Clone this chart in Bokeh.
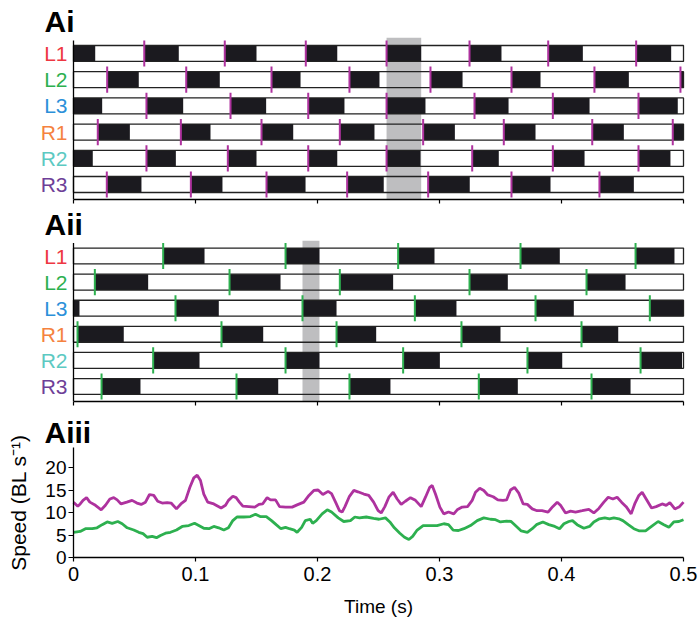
from bokeh.plotting import figure
from bokeh.models import Range1d, FixedTicker, LinearAxis
from bokeh.core.properties import value
from bokeh.layouts import column
from bokeh.embed import file_html
from bokeh.resources import INLINE

LEGS = ["L1", "L2", "L3", "R1", "R2", "R3"]
LEG_COLORS = ["#EE3742", "#2DB04F", "#2B90D9", "#F5823F", "#5CC9C2", "#6E3F98"]

# ---- Ai: stance phases (onset, offset) in seconds ----
AI_L1 = [[0.0000, 0.0178], [0.0580, 0.0863], [0.1240, 0.1500], [0.1904, 0.2162],
         [0.2566, 0.2850], [0.3246, 0.3508], [0.3891, 0.4175], [0.4612, 0.4899]]
AI_L2 = [[0.0276, 0.0535], [0.0924, 0.1199], [0.1623, 0.1861], [0.2262, 0.2508],
         [0.2926, 0.3189], [0.3590, 0.3828], [0.4270, 0.4552], [0.4975, 0.5000]]
AI_L3 = [[0.0000, 0.0235], [0.0598, 0.0899], [0.1287, 0.1579], [0.1924, 0.2221],
         [0.2566, 0.2885], [0.3287, 0.3566], [0.3929, 0.4230], [0.4631, 0.4953]]
AI_R1 = [[0.0199, 0.0462], [0.0880, 0.1123], [0.1541, 0.1801], [0.2183, 0.2467],
         [0.2866, 0.3126], [0.3527, 0.3787], [0.4252, 0.4511], [0.4912, 0.5000]]
AI_R2 = [[0.0000, 0.0158], [0.0598, 0.0839], [0.1265, 0.1500], [0.1924, 0.2162],
         [0.2566, 0.2844], [0.3268, 0.3486], [0.3929, 0.4189], [0.4631, 0.4893]]
AI_R3 = [[0.0273, 0.0557], [0.0962, 0.1221], [0.1582, 0.1902], [0.2243, 0.2543],
         [0.2907, 0.3248], [0.3590, 0.3910], [0.4311, 0.4593]]
AI_HIGHLIGHT = [0.2566, 0.2850]

# ---- Aii: stance phases ----
AII_L1 = [[0.0735, 0.1074], [0.1738, 0.2016], [0.2661, 0.2959], [0.3664, 0.3986],
          [0.4607, 0.4926]]
AII_L2 = [[0.0175, 0.0612], [0.1279, 0.1697], [0.2183, 0.2620], [0.3246, 0.3560],
          [0.4205, 0.4525]]
AII_L3 = [[0.0000, 0.0049], [0.0836, 0.1191], [0.1877, 0.2156], [0.2798, 0.3139],
          [0.3787, 0.4101], [0.4724, 0.5000]]
AII_R1 = [[0.0033, 0.0412], [0.1213, 0.1555], [0.2156, 0.2481], [0.3180, 0.3500],
          [0.4164, 0.4465]]
AII_R2 = [[0.0653, 0.1033], [0.1738, 0.2016], [0.2702, 0.3003], [0.3721, 0.4006],
          [0.4648, 0.4988]]
AII_R3 = [[0.0230, 0.0549], [0.1336, 0.1678], [0.2262, 0.2598], [0.3322, 0.3642],
          [0.4246, 0.4566]]
AII_HIGHLIGHT = [0.1877, 0.2016]

# ---- Aiii: speed traces ----
TIME_FAST = [0.000, 0.0035, 0.0055, 0.0078, 0.0107, 0.0134, 0.0180, 0.0227, 0.0262, 0.0298,
             0.0330, 0.0358, 0.0390, 0.0437, 0.0480, 0.0520, 0.0555, 0.0590, 0.0623, 0.0658,
             0.0690, 0.0727, 0.0768, 0.0800, 0.0844, 0.0880, 0.0918, 0.0954, 0.0986, 0.1014,
             0.1041, 0.1068, 0.1100, 0.1150, 0.1210, 0.1246, 0.1270, 0.1306, 0.1333, 0.1360,
             0.1388, 0.1437, 0.1486, 0.1520, 0.1550, 0.1587, 0.1615, 0.1656, 0.1689, 0.1738,
             0.1792, 0.1833, 0.1888, 0.1930, 0.1970, 0.2005, 0.2044, 0.2087, 0.2115, 0.2148,
             0.2180, 0.2202, 0.2225, 0.2262, 0.2298, 0.2331, 0.2380, 0.2420, 0.2460, 0.2497,
             0.2522, 0.2552, 0.2585, 0.2620, 0.2653, 0.2686, 0.2720, 0.2762, 0.2803, 0.2850,
             0.2885, 0.2920, 0.2940, 0.2967, 0.3003, 0.3035, 0.3074, 0.3117, 0.3145, 0.3186,
             0.3230, 0.3268, 0.3295, 0.3330, 0.3363, 0.3396, 0.3440, 0.3478, 0.3520, 0.3550,
             0.3582, 0.3615, 0.3650, 0.3686, 0.3720, 0.3760, 0.3800, 0.3840, 0.3890, 0.3928,
             0.3965, 0.3992, 0.4033, 0.4074, 0.4115, 0.4170, 0.4224, 0.4265, 0.4306, 0.4347,
             0.4383, 0.4421, 0.4456, 0.4492, 0.4530, 0.4571, 0.4600, 0.4634, 0.4661, 0.4694,
             0.4738, 0.4776, 0.4825, 0.4858, 0.4888, 0.4929, 0.4967, 0.5000]
SPEED_FAST = [12.3, 11.4, 11.9, 12.7, 13.3, 12.3, 11.6, 10.6, 11.6, 13.0,
              13.3, 12.8, 11.9, 12.3, 12.7, 12.1, 11.8, 12.3, 14.0, 13.8,
              12.5, 12.1, 12.2, 12.1, 10.8, 11.9, 12.7, 15.6, 17.7, 18.3,
              17.1, 14.1, 12.3, 11.9, 11.0, 11.6, 12.7, 13.6, 13.3, 12.3,
              11.4, 11.3, 11.2, 11.8, 11.9, 13.3, 12.8, 12.8, 11.3, 11.2,
              11.2, 11.7, 12.3, 13.8, 14.9, 15.0, 14.0, 14.7, 14.2, 12.3,
              10.4, 10.1, 11.3, 13.6, 14.9, 14.6, 14.1, 13.8, 12.3, 10.4,
              9.9, 11.3, 13.4, 14.5, 13.0, 11.8, 12.5, 13.3, 12.7, 11.3,
              13.4, 15.6, 16.0, 14.1, 11.2, 9.7, 10.1, 9.7, 10.6, 11.2,
              11.3, 12.7, 14.5, 15.4, 14.9, 13.9, 13.5, 12.8, 12.7, 12.8,
              15.0, 15.6, 14.3, 11.9, 11.8, 10.8, 10.4, 10.4, 10.1, 11.3,
              12.3, 11.6, 9.9, 10.3, 10.1, 10.4, 10.7, 9.9, 10.9, 12.3,
              13.4, 13.0, 13.4, 12.3, 11.3, 9.7, 11.9, 13.8, 14.5, 13.0,
              11.0, 11.3, 11.9, 11.6, 12.2, 10.8, 11.3, 12.3]
TIME_SLOW = [0.000, 0.0055, 0.0098, 0.0153, 0.0193, 0.0235, 0.0276, 0.0317, 0.0363, 0.0399,
             0.0440, 0.0494, 0.0535, 0.0570, 0.0604, 0.0645, 0.0680, 0.0713, 0.0754, 0.0795,
             0.0844, 0.0891, 0.0945, 0.0992, 0.1027, 0.1068, 0.1110, 0.1150, 0.1190, 0.1232,
             0.1270, 0.1306, 0.1340, 0.1396, 0.1450, 0.1492, 0.1530, 0.1580, 0.1623, 0.1661,
             0.1700, 0.1738, 0.1770, 0.1810, 0.1833, 0.1870, 0.1900, 0.1940, 0.1960, 0.1990,
             0.2038, 0.2080, 0.2115, 0.2170, 0.2215, 0.2270, 0.2306, 0.2344, 0.2400, 0.2460,
             0.2505, 0.2557, 0.2593, 0.2630, 0.2675, 0.2713, 0.2749, 0.2780, 0.2817, 0.2866,
             0.2926, 0.2980, 0.3035, 0.3074, 0.3112, 0.3156, 0.3200, 0.3254, 0.3309, 0.3363,
             0.3418, 0.3459, 0.3500, 0.3550, 0.3587, 0.3631, 0.3670, 0.3720, 0.3760, 0.3795,
             0.3847, 0.3896, 0.3945, 0.3984, 0.4020, 0.4060, 0.4090, 0.4128, 0.4183, 0.4230,
             0.4265, 0.4311, 0.4355, 0.4393, 0.4429, 0.4470, 0.4503, 0.4547, 0.4593, 0.4639,
             0.4689, 0.4738, 0.4792, 0.4839, 0.4880, 0.4920, 0.4962, 0.5000]
SPEED_SLOW = [5.6, 5.8, 6.4, 6.4, 6.6, 7.3, 7.9, 7.6, 8.0, 7.5,
              6.6, 6.1, 5.6, 5.3, 4.5, 4.7, 4.4, 4.9, 5.4, 5.6,
              6.1, 6.9, 7.1, 7.6, 7.1, 6.5, 6.4, 6.9, 6.6, 6.1,
              6.6, 8.2, 9.0, 9.0, 9.1, 9.6, 9.1, 9.1, 8.2, 7.3,
              6.4, 6.7, 6.4, 6.1, 5.6, 6.7, 8.2, 8.5, 7.6, 8.2,
              9.7, 10.6, 10.1, 8.8, 8.0, 8.2, 9.0, 8.8, 9.0, 8.7,
              8.5, 8.8, 7.9, 6.6, 5.4, 4.5, 4.0, 4.7, 6.1, 7.1,
              7.1, 7.1, 7.5, 7.3, 6.1, 6.0, 6.4, 7.1, 8.2, 8.8,
              8.5, 8.4, 7.9, 8.1, 8.0, 6.9, 5.9, 5.6, 6.4, 7.3,
              7.9, 7.3, 6.9, 6.4, 7.5, 8.0, 8.2, 7.3, 6.5, 6.9,
              7.9, 8.6, 8.8, 8.6, 8.8, 8.6, 8.2, 7.3, 6.4, 5.9,
              5.9, 6.9, 8.0, 7.3, 6.7, 7.9, 8.0, 8.4]

X_TICKS = [0, 0.1, 0.2, 0.3, 0.4, 0.5]
Y_TICKS = [0, 5, 10, 15, 20]

FONT = "Liberation Sans"
W = 700
AXIS_PX = 73            # pixel position of t = 0
PX_PER_S = 1220.0
X_START = -AXIS_PX / PX_PER_S
X_END = 0.5 + (W - AXIS_PX - 0.5 * PX_PER_S) / PX_PER_S
HALF_BAR = 0.305
HALF_TICK = 0.5
MAGENTA = "#AE329E"
GREEN = "#2DB04F"


def style_title(p, text):
    p.title.text = text
    p.title.align = "left"
    p.title.offset = 44
    p.title.standoff = 0
    p.title.text_font = FONT
    p.title.text_font_size = "30px"
    p.title.text_font_style = "bold"
    p.title.text_color = "black"


def gait_fig(stances, tick_color, hl, y0, y1, height, top, bottom, title):
    p = figure(width=W, height=height, x_range=Range1d(X_START, X_END),
               y_range=Range1d(y0, y1), output_backend="svg", toolbar_location=None,
               y_axis_location=None,
               min_border_left=0, min_border_right=0,
               min_border_top=top, min_border_bottom=bottom)
    p.outline_line_color = None
    p.grid.visible = False
    style_title(p, title)
    p.xaxis.bounds = (0, 0.5)
    p.xaxis.axis_line_width = 1.3

    ys = [5 - i for i in range(6)]
    n = len(ys)
    bots = [y - HALF_BAR for y in ys]
    tops = [y + HALF_BAR for y in ys]
    p.quad(left=[0] * n, right=[0.5] * n, bottom=bots, top=tops,
           fill_color="white", line_color=None)
    p.quad(left=[hl[0]], right=[hl[1]], bottom=[y0], top=[y1],
           fill_color="#BEBEC0", line_color=None)
    L, R, B, T = [], [], [], []
    tx, tb, tt = [], [], []
    for y, st in zip(ys, stances):
        for a, b in st:
            L.append(a); R.append(b); B.append(y - HALF_BAR); T.append(y + HALF_BAR)
            if a > 0.001:
                tx.append(a); tb.append(y - HALF_TICK); tt.append(y + HALF_TICK)
    p.quad(left=L, right=R, bottom=B, top=T, fill_color="#1B1A1F", line_color=None)
    p.quad(left=[0] * n, right=[0.5] * n, bottom=bots, top=tops,
           fill_color=None, line_color="#222222", line_width=1.3)
    p.segment(x0=tx, y0=tb, x1=tx, y1=tt, line_color=tick_color, line_width=2)
    # left axis line
    p.segment(x0=[0], y0=[y0], x1=[0], y1=[5.5], line_color="black", line_width=1.3)
    # leg labels
    p.text(x=[0] * n, y=ys, text=LEGS, text_color=LEG_COLORS, x_offset=-6,
           text_align="right", text_baseline="middle",
           text_font=value(FONT), text_font_size="21px")

    p.xaxis.ticker = FixedTicker(ticks=[], minor_ticks=X_TICKS)
    p.xaxis.minor_tick_in = 0
    p.xaxis.minor_tick_out = 4
    p.xaxis.minor_tick_line_color = "black"
    p.xaxis.minor_tick_line_width = 1.2
    p.xaxis.major_tick_line_color = None
    return p


p1 = gait_fig([AI_L1, AI_L2, AI_L3, AI_R1, AI_R2, AI_R3], MAGENTA, AI_HIGHLIGHT,
              -0.573, 5.61, 205, 37, 6, "Ai")
p2 = gait_fig([AII_L1, AII_L2, AII_L3, AII_R1, AII_R2, AII_R3], GREEN, AII_HIGHLIGHT,
              -0.575, 5.594, 202, 35, 6, "Aii")

# ---- speed panel: frame fills the whole canvas, axes pinned at t=0 / v=0 ----
H3 = 211
ZERO_FROM_TOP = 150          # pixel row of speed 0 inside this canvas
PX_PER_UNIT = 4.5
Y3_TOP = ZERO_FROM_TOP / PX_PER_UNIT
Y3_BOTTOM = Y3_TOP - H3 / PX_PER_UNIT
p3 = figure(width=W, height=H3, x_range=Range1d(X_START, X_END),
            y_range=Range1d(Y3_BOTTOM, Y3_TOP), output_backend="svg", toolbar_location=None,
            x_axis_location=None, y_axis_location=None, title=None,
            min_border_left=0, min_border_right=0, min_border_top=0, min_border_bottom=0)
p3.outline_line_color = None
p3.grid.visible = False
p3.line(TIME_FAST, SPEED_FAST, line_color=MAGENTA, line_width=2.8)
p3.line(TIME_SLOW, SPEED_SLOW, line_color=GREEN, line_width=2.8)
p3.text(x=[X_START + 44 / PX_PER_S], y=[27.8], text=["Aiii"], text_align="left",
        text_baseline="middle", text_font=value(FONT), text_font_size="30px",
        text_font_style="bold", text_color="black")

xax = LinearAxis(fixed_location=0, bounds=(0, 0.5), ticker=FixedTicker(ticks=X_TICKS))
yax = LinearAxis(fixed_location=0, bounds=(0, 24.5), ticker=FixedTicker(ticks=Y_TICKS))
p3.add_layout(xax, "below")
p3.add_layout(yax, "left")
xax.major_label_overrides = {0: "0"}
for ax in (xax, yax):
    ax.major_tick_in = 0
    ax.major_tick_out = 5
    ax.minor_tick_line_color = None
    ax.axis_line_width = 1.3
    ax.major_tick_line_width = 1.2
    ax.major_label_text_font = FONT
    ax.major_label_text_color = "black"
    ax.axis_label_text_font = FONT
    ax.axis_label_text_font_style = "normal"
    ax.axis_label_text_color = "black"
xax.major_tick_out = 4
xax.major_label_text_font_size = "20px"
xax.major_label_standoff = 5
xax.axis_label = "Time (s)"
xax.axis_label_text_font_size = "19px"
xax.axis_label_standoff = 12
yax.major_label_text_font_size = "19px"
yax.major_label_standoff = 2
yax.axis_label = "Speed (BL s\u207b\u00b9)"
yax.axis_label_text_font_size = "21px"
yax.axis_label_standoff = 12

layout = column(p1, p2, p3, spacing=0)
open("out.html", "w").write(file_html(layout, INLINE))
